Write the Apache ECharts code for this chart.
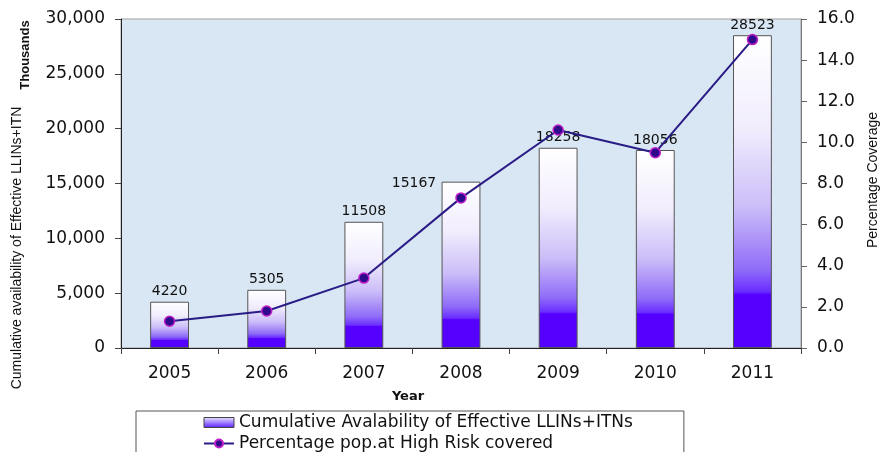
<!DOCTYPE html>
<html>
<head>
<meta charset="utf-8">
<script src="https://cdn.jsdelivr.net/npm/echarts@6/dist/echarts.min.js"></script>
<style>
html,body{margin:0;padding:0;background:#fff;}
#c{width:883px;height:452px;}
</style>
</head>
<body>
<div id="c"></div>
<script>
var years = ['2005','2006','2007','2008','2009','2010','2011'];
var nets = [4220, 5305, 11508, 15167, 18258, 18056, 28523];
var coverage = [1.3, 1.8, 3.4, 7.3, 10.6, 9.5, 15.0];
var leftTicks = {min: 0, max: 30000, interval: 5000};
var rightTicks = {min: 0, max: 16, interval: 2};

var FONT = '"DejaVu Sans", "Liberation Sans", Arial, sans-serif';
var FONT2 = '"Liberation Sans", Arial, sans-serif';
var barGrad = new echarts.graphic.LinearGradient(0, 0, 0, 1, [
  {offset: 0, color: '#ffffff'},
  {offset: 0.3, color: '#f1edfd'},
  {offset: 0.55, color: '#cbbdf8'},
  {offset: 0.75, color: '#8f6cf8'},
  {offset: 0.82, color: '#6a2dff'},
  {offset: 0.83, color: '#5500ff'},
  {offset: 1, color: '#5500ff'}
]);

// the 2008 label sits beside the bar top in the original, to the left
var barData = nets.map(function (v, i) {
  return i === 3 ? {value: v, label: {offset: [-47, 12]}} : v;
});

var chart = echarts.init(document.getElementById('c'), null, {renderer: 'canvas'});
chart.setOption({
  animation: false,
  textStyle: {fontFamily: FONT},
  grid: {
    left: 121, right: 82, top: 19, bottom: 104,
    show: true, backgroundColor: '#d9e6f3', borderColor: '#a0a0a0', borderWidth: 1
  },
  legend: {
    left: 136, top: 411, orient: 'vertical', height: 70,
    padding: [3, 51, 12, 67],
    borderColor: '#555', borderWidth: 1,
    itemGap: 4, itemWidth: 30, itemHeight: 10,
    textStyle: {fontSize: 17, color: '#111', fontFamily: FONT},
    data: [
      {name: 'Cumulative Avalability of Effective LLINs+ITNs', icon: 'rect',
       itemStyle: {color: new echarts.graphic.LinearGradient(0,0,0,1,[{offset:0,color:'#ece8ff'},{offset:1,color:'#5a1aff'}]), borderColor: '#444', borderWidth: 1}},
      {name: 'Percentage pop.at High Risk covered'}
    ]
  },
  xAxis: {
    type: 'category', data: years,
    axisLine: {lineStyle: {color: '#222', width: 1}},
    axisTick: {show: true, length: 6, lineStyle: {color: '#444'}},
    axisLabel: {fontSize: 17, color: '#111', margin: 17, fontFamily: FONT}
  },
  yAxis: [
    {
      type: 'value', min: leftTicks.min, max: leftTicks.max, interval: leftTicks.interval,
      axisLine: {show: true, lineStyle: {color: '#222'}},
      axisTick: {show: true, length: 6, lineStyle: {color: '#444'}},
      splitLine: {show: false},
      axisLabel: {fontSize: 17, color: '#111', margin: 16, fontFamily: FONT,
        formatter: function (v) { return v.toLocaleString('en-US'); }}
    },
    {
      type: 'value', min: rightTicks.min, max: rightTicks.max, interval: rightTicks.interval,
      position: 'right',
      axisLine: {show: true, lineStyle: {color: '#777'}},
      axisTick: {show: true, length: 6, lineStyle: {color: '#666'}},
      splitLine: {show: false},
      axisLabel: {fontSize: 17, color: '#111', margin: 16, fontFamily: FONT,
        formatter: function (v) { return v.toFixed(1); }}
    }
  ],
  series: [
    {
      name: 'Cumulative Avalability of Effective LLINs+ITNs',
      type: 'bar', data: barData, yAxisIndex: 0, barWidth: '40%',
      itemStyle: {color: barGrad, borderColor: '#555', borderWidth: 1},
      label: {show: true, position: 'top', distance: 3, fontSize: 14, color: '#111', fontFamily: FONT}
    },
    {
      name: 'Percentage pop.at High Risk covered',
      type: 'line', data: coverage, yAxisIndex: 1,
      symbol: 'circle', symbolSize: 10,
      lineStyle: {color: '#2a1c86', width: 2},
      itemStyle: {color: '#2e0a8c', borderColor: '#c020c8', borderWidth: 1.5},
      z: 5
    }
  ],
  graphic: [
    {type: 'text', x: 408, y: 397,
     style: {text: 'Year', font: 'bold 13px ' + FONT, fill: '#111', textAlign: 'center', textVerticalAlign: 'middle'}},
    {type: 'text', x: 17, y: 248, rotation: Math.PI / 2, originX: 0, originY: 0,
     style: {text: 'Cumulative availability of Effective LLINs+ITN', font: '14px ' + FONT2, fill: '#111', textAlign: 'center', textVerticalAlign: 'middle'}},
    {type: 'text', x: 25, y: 55, rotation: Math.PI / 2, originX: 0, originY: 0,
     style: {text: 'Thousands', font: 'bold 13px ' + FONT2, fill: '#111', textAlign: 'center', textVerticalAlign: 'middle'}},
    {type: 'text', x: 873, y: 180, rotation: Math.PI / 2, originX: 0, originY: 0,
     style: {text: 'Percentage Coverage', font: '14px ' + FONT2, fill: '#111', textAlign: 'center', textVerticalAlign: 'middle'}}
  ]
});
</script>
</body>
</html>
